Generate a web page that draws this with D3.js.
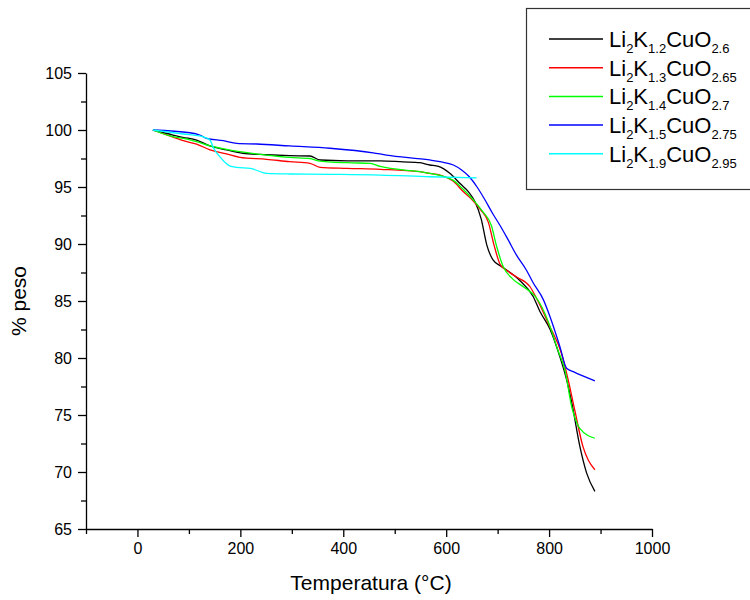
<!DOCTYPE html>
<html>
<head>
<meta charset="utf-8">
<script src="https://cdn.jsdelivr.net/npm/d3@7"></script>
<style>
  body { margin: 0; background: #fff; }
  svg { font-family: "Liberation Sans", Arial, sans-serif; }
</style>
</head>
<body>
<svg id="chart" width="750" height="600"></svg>
<script>
// ---- data (temperature °C, % weight) ----
const k12 = [[30,100],[69,99.56],[88,99.36],[115,99.12],[141,98.6],[173,98.25],[205,97.96],[251,97.83],[296,97.75],[335,97.72],[355,97.37],[407,97.3],[472,97.3],[516,97.2],[549,97.13],[568,96.93],[585,96.8],[607,96.2],[627,95.3],[643,94.6],[656,93.7],[668,92.2],[679,89.9],[691,88.6],[705,88.1],[718,87.7],[743,86.8],[769,85.4],[782,84.1],[802,82.5],[821,80.1],[834,78.1],[844,76.1],[860,72.2],[873,69.9],[889,68.3]];
const k13 = [[30,100],[76,99.27],[89,99.06],[115,98.77],[141,98.25],[173,97.9],[199,97.6],[251,97.43],[296,97.22],[335,97.08],[355,96.73],[407,96.64],[472,96.55],[549,96.34],[568,96.2],[588,96.05],[614,95.5],[633,94.6],[650,93.9],[667,93.0],[682,91.9],[693,89.9],[705,88.2],[720,87.6],[737,87.1],[763,86.25],[776,85.2],[800,82.9],[824,80.4],[837,78.1],[850,75.4],[866,72.2],[876,71.05],[889,70.2]];
const k14 = [[30,100],[69,99.42],[89,99.27],[115,98.97],[141,98.6],[173,98.3],[199,98.1],[251,97.8],[296,97.6],[335,97.5],[351,97.3],[407,97.13],[452,97.08],[472,96.8],[549,96.34],[568,96.2],[613,95.6],[633,94.8],[652,93.9],[670,92.9],[688,91.6],[698,89.8],[711,88.0],[730,86.9],[750,86.25],[773,85.4],[782,84.8],[802,82.75],[817,80.7],[831,78.9],[844,75.7],[854,74.3],[860,73.8],[889,72.96]];
const k15 = [[30,100],[102,99.76],[121,99.56],[134,99.27],[167,99.06],[193,98.83],[232,98.77],[296,98.6],[374,98.4],[458,98.0],[484,97.8],[568,97.37],[588,97.22],[614,96.93],[630,96.5],[645,95.9],[660,95.0],[675,93.9],[690,92.7],[705,91.6],[720,90.4],[737,89.0],[756,87.7],[769,86.6],[789,85.1],[802,83.6],[821,81.0],[834,79.1],[847,78.8],[889,78.0]];
const k19 = [[30,100],[89,99.65],[128,99.4],[141,99.12],[147,98.5],[160,97.66],[180,96.84],[193,96.73],[219,96.64],[251,96.2],[296,96.14],[374,96.11],[472,96.05],[568,95.9],[659,95.8]];

const seriesData = [k12, k13, k14, k15, k19];
const seriesColors = ["#000000", "#ff0000", "#00ff00", "#0000ff", "#00ffff"];
const legendK = ["1.2", "1.3", "1.4", "1.5", "1.9"];
const legendO = ["2.6", "2.65", "2.7", "2.75", "2.95"];

const xMajorTicks = [0, 200, 400, 600, 800, 1000];
const xMinorTicks = [-100, 100, 300, 500, 700, 900];
const yMajorTicks = [65, 70, 75, 80, 85, 90, 95, 100, 105];
const yMinorTicks = [67.5, 72.5, 77.5, 82.5, 87.5, 92.5, 97.5, 102.5];

// ---- layout ----
const svg = d3.select("#chart");
const pLeft = 86, pRight = 652, pTop = 73, pBottom = 529;

const x = d3.scaleLinear().domain([-100, 1000]).range([pLeft, pRight]);
const y = d3.scaleLinear().domain([65, 105]).range([pBottom, pTop]);

// minor ticks
svg.append("g").attr("transform", `translate(0,${pBottom})`)
  .call(d3.axisBottom(x).tickValues(xMinorTicks).tickSize(5).tickFormat(""))
  .call(g => g.select(".domain").remove());
svg.append("g").attr("transform", `translate(${pLeft},0)`)
  .call(d3.axisLeft(y).tickValues(yMinorTicks).tickSize(5).tickFormat(""))
  .call(g => g.select(".domain").remove());

// major axes
svg.append("g").attr("transform", `translate(0,${pBottom})`)
  .call(d3.axisBottom(x).tickValues(xMajorTicks).tickSize(8).tickSizeOuter(0).tickPadding(6).tickFormat(d3.format("d")));
svg.append("g").attr("transform", `translate(${pLeft},0)`)
  .call(d3.axisLeft(y).tickValues(yMajorTicks).tickSize(8).tickSizeOuter(0).tickPadding(6).tickFormat(d3.format("d")));

svg.selectAll(".tick line").attr("stroke", "#000").attr("stroke-width", 1.3);
svg.selectAll(".domain").attr("stroke", "#000").attr("stroke-width", 1.3);
svg.selectAll(".tick text").attr("fill", "#000").style("font-size", "16px")
  .style("font-family", '"Liberation Sans", Arial, sans-serif');

// axis titles
svg.append("text").attr("x", (pLeft + pRight) / 2 + 2).attr("y", 590)
  .attr("text-anchor", "middle").style("font-size", "21px").text("Temperatura (°C)");
svg.append("text").attr("transform", `translate(26,${(pTop + pBottom) / 2}) rotate(-90)`)
  .attr("text-anchor", "middle").style("font-size", "21px").text("% peso");

// curves
const line = d3.line().x(d => x(d[0])).y(d => y(d[1])).curve(d3.curveMonotoneX);
seriesData.forEach((s, i) => {
  svg.append("path").datum(s).attr("d", line)
    .attr("fill", "none").attr("stroke", seriesColors[i]).attr("stroke-width", 1.3);
});

// legend
const lg = svg.append("g");
lg.append("rect").attr("x", 526.5).attr("y", 8.5).attr("width", 240).attr("height", 181)
  .attr("fill", "#fff").attr("stroke", "#333").attr("stroke-width", 1.2);
legendK.forEach((k, i) => {
  const cy = 39 + i * 28.7;
  lg.append("line").attr("x1", 549).attr("x2", 603).attr("y1", cy).attr("y2", cy)
    .attr("stroke", seriesColors[i]).attr("stroke-width", 1.5);
  const t = lg.append("text").attr("x", 609).attr("y", cy + 8).style("font-size", "22px").attr("fill", "#000");
  t.append("tspan").text("Li");
  t.append("tspan").attr("dy", 6).style("font-size", "13px").text("2");
  t.append("tspan").attr("dy", -6).text("K");
  t.append("tspan").attr("dy", 6).style("font-size", "13px").text(k);
  t.append("tspan").attr("dy", -6).text("CuO");
  t.append("tspan").attr("dy", 6).style("font-size", "13px").text(legendO[i]);
});
</script>
</body>
</html>
